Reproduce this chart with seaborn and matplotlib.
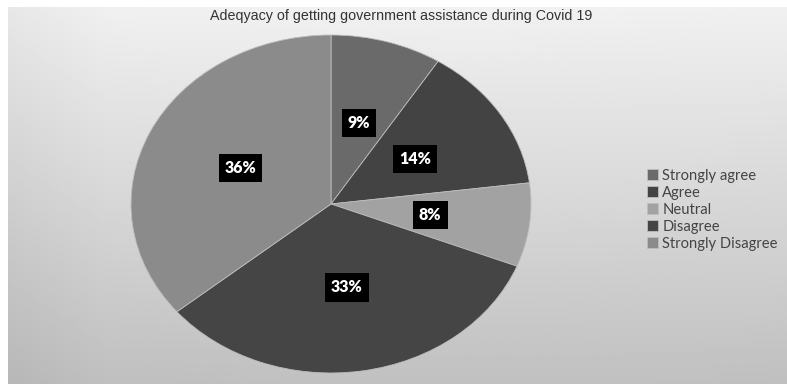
import numpy as np
import matplotlib
matplotlib.use("Agg")
import matplotlib.pyplot as plt
import seaborn as sns

categories = ["Strongly agree", "Agree", "Neutral", "Disagree", "Strongly Disagree"]
shares = [9, 14, 8, 33, 36]
slice_colors = ["#6a6a6a", "#434343", "#a2a2a2", "#454545", "#8b8b8b"]
title = "Adeqyacy of getting government assistance during Covid 19"

sns.set_theme(style="white")
plt.rcParams["font.family"] = ["Lato", "DejaVu Sans"]

W, H = 787, 384
fig = plt.figure(figsize=(W / 100, H / 100), dpi=100)
fig.patch.set_facecolor("white")

# gradient backdrop of the chart area
bg = fig.add_axes([8 / W, 0, 1 - 8 / W, (H - 7) / H])
ny, nx = 200, 400
yy, xx = np.mgrid[0:1:ny * 1j, 0:1:nx * 1j]
val = 0.945 - 0.19 * yy - 0.03 * np.clip(1 - xx * 8, 0, 1) - 0.02 * (xx - 0.6) ** 2
bg.imshow(val, cmap="gray", vmin=0, vmax=1, aspect="auto", extent=[0, 1, 0, 1], origin="upper")
bg.set_axis_off()

# pie drawn as a slightly flattened ellipse
cx, cy, rx, ry = 331, 204, 200, 169
ax = fig.add_axes([(cx - rx) / W, (H - cy - ry) / H, 2 * rx / W, 2 * ry / H])
ax.set_facecolor("none")
wedges, texts, autotexts = ax.pie(
    shares,
    colors=slice_colors,
    startangle=90,
    counterclock=False,
    autopct=lambda p: f"{p:.0f}%",
    pctdistance=0.5,
    wedgeprops=dict(edgecolor="#bdbdbd", linewidth=0.6),
    textprops=dict(color="white", fontsize=11.5, fontweight="heavy"),
)
for t in autotexts:
    t.set_bbox(dict(boxstyle="square,pad=0.38", facecolor="black", edgecolor="none"))
ax.set_aspect("auto")
ax.set_xlim(-1, 1)
ax.set_ylim(-1, 1)
ax.set_axis_off()

fig.text(401 / W, 1 - 16 / H, title, ha="center", va="center", fontsize=10.3,
         color="#333333", family=["Liberation Sans", "DejaVu Sans"])

leg = fig.legend(wedges, categories, loc="upper left", bbox_to_anchor=(641 / W, 1 - 163 / H),
                 frameon=False, fontsize=10.6, handlelength=0.75, handleheight=0.75,
                 handletextpad=0.3, labelspacing=0.2, borderaxespad=0)
for t in leg.get_texts():
    t.set_color("#444444")

fig.savefig("out.png", dpi=100, facecolor=fig.get_facecolor())
